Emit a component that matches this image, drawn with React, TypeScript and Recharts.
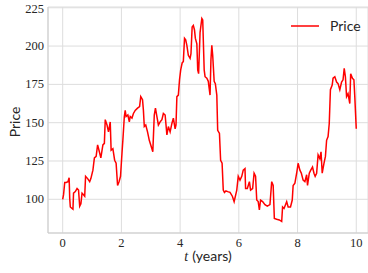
import { CartesianGrid, Line, LineChart, XAxis, YAxis } from "recharts";

const times = [
  0.0, 0.03, 0.07, 0.12, 0.18, 0.22, 0.24, 0.26, 0.32, 0.35, 0.37, 0.43, 0.49, 0.54, 0.58, 0.62,
  0.66, 0.71, 0.75, 0.78, 0.85, 0.92, 0.96, 1.03, 1.08, 1.14, 1.19, 1.25, 1.3, 1.37, 1.42, 1.45,
  1.51, 1.56, 1.62, 1.65, 1.71, 1.77, 1.82, 1.87, 1.92, 1.97, 2.02, 2.05, 2.1, 2.13, 2.16, 2.22,
  2.27, 2.3, 2.36, 2.41, 2.47, 2.55, 2.62, 2.66, 2.72, 2.75, 2.78, 2.83, 2.89, 2.95, 3.0, 3.07,
  3.12, 3.16, 3.21, 3.26, 3.32, 3.38, 3.43, 3.49, 3.55, 3.6, 3.66, 3.72, 3.77, 3.83, 3.86, 3.89,
  3.94, 3.98, 4.02, 4.07, 4.11, 4.15, 4.19, 4.23, 4.28, 4.34, 4.37, 4.41, 4.45, 4.49, 4.52, 4.57,
  4.6, 4.63, 4.68, 4.74, 4.77, 4.82, 4.85, 4.91, 4.96, 5.02, 5.05, 5.08, 5.11, 5.16, 5.2, 5.25,
  5.28, 5.34, 5.38, 5.43, 5.47, 5.51, 5.56, 5.62, 5.7, 5.78, 5.84, 5.93, 5.98, 6.04, 6.1, 6.15,
  6.21, 6.23, 6.29, 6.36, 6.4, 6.47, 6.52, 6.57, 6.61, 6.66, 6.7, 6.74, 6.81, 6.89, 6.97, 7.06,
  7.12, 7.17, 7.21, 7.29, 7.38, 7.46, 7.49, 7.54, 7.59, 7.63, 7.68, 7.76, 7.82, 7.85, 7.91, 7.97,
  8.02, 8.08, 8.13, 8.19, 8.25, 8.31, 8.34, 8.4, 8.45, 8.51, 8.56, 8.6, 8.65, 8.7, 8.76, 8.8,
  8.84, 8.9, 8.95, 8.99, 9.04, 9.08, 9.12, 9.18, 9.21, 9.27, 9.33, 9.38, 9.44, 9.5, 9.55, 9.59,
  9.63, 9.67, 9.72, 9.78, 9.81, 9.87, 9.92, 9.95, 10.0,
];

const prices = [
  100, 103, 111, 111, 111.5, 114, 100.5, 95, 94, 93.5, 104, 105, 107, 106, 95.5, 97,
  104, 103, 102, 115, 113.5, 111.5, 113.5, 119, 127, 128, 135.5, 131, 127, 135.5, 136.5, 152,
  148.5, 144, 150.5, 132, 133, 125.5, 123.5, 109, 111.5, 115, 130, 138.5, 154, 158, 154, 155,
  150.5, 154, 153, 156, 158, 159.5, 160.5, 167, 165, 158, 147.5, 148.5, 144, 138.5, 135.5, 131,
  155, 159.5, 154, 148.5, 150.5, 152, 156, 155, 142, 147.5, 144, 149.5, 153, 146, 148.5, 167,
  168, 178, 184.5, 189, 190, 205, 204, 200.5, 194, 192, 195, 212.5, 213.5, 210.5, 205, 201.5,
  184.5, 182, 209, 218, 217, 184.5, 180, 179, 177, 168, 191, 200.5, 194, 177, 175.5, 168,
  145, 143, 125.5, 123.5, 106, 104.5, 105.5, 105, 104.5, 102, 98.5, 106, 115, 112.5, 115, 119,
  120, 107, 107, 111.5, 106, 107, 117, 115, 99.5, 98.5, 93, 99.5, 98.5, 96.5, 95.5, 96.5,
  111.5, 109, 87.5, 87, 86.5, 85.5, 95, 94, 96.5, 98.5, 95, 95, 99.5, 109, 110.5, 117,
  123.5, 119, 117, 112.5, 111.5, 116, 109, 117, 119, 121, 117, 115, 117, 129, 126.5, 131,
  117, 123.5, 128, 138.5, 141, 149.5, 171.5, 174.5, 179, 180, 176.5, 175.5, 171.5, 176.5, 178, 185.5,
  180, 167, 169, 162.5, 182, 179, 178, 167, 146,
];

const xTicks = [0, 2, 4, 6, 8, 10];
const yTicks = [100, 125, 150, 175, 200, 225];

const data = times.map((t, i) => ({ t, price: prices[i] }));

const serif = "Liberation Serif";
const sans = "Lato";
const textColor = "#262626";

const XTick = (props: any) => {
  const { x, y, payload } = props;
  return (
    <text x={x} y={y + 12} textAnchor="middle" fill={textColor} fontSize={12.5} style={{ fontFamily: serif }}>
      {payload.value}
    </text>
  );
};

const YTick = (props: any) => {
  const { x, y, payload } = props;
  return (
    <text x={x} y={y} textAnchor="end" dominantBaseline="central" fill={textColor} fontSize={12.5} style={{ fontFamily: serif }}>
      {payload.value}
    </text>
  );
};

const XLabel = (props: any) => {
  const { x, y, width } = props.viewBox;
  return (
    <text x={x + width / 2} y={y + 28} textAnchor="middle" fill={textColor} fontSize={14}>
      <tspan style={{ fontFamily: serif, fontStyle: "italic" }}>t</tspan>
      <tspan style={{ fontFamily: sans }} dx={4}>(years)</tspan>
    </text>
  );
};

const YLabel = (props: any) => {
  const { x, y, height } = props.viewBox;
  const cx = x + 14.5;
  const cy = y + height / 2 + 2;
  return (
    <text
      x={cx}
      y={cy}
      transform={`rotate(-90, ${cx}, ${cy})`}
      textAnchor="middle"
      dominantBaseline="central"
      fill={textColor}
      fontSize={14}
      style={{ fontFamily: sans }}
    >
      Price
    </text>
  );
};

export default function App() {
  return (
    <div style={{ position: "absolute", left: 0, top: 0, width: 368, height: 273, overflow: "hidden", background: "#fff" }}>
      <LineChart width={368} height={273} data={data} margin={{ top: 7, right: 0, bottom: 0, left: 0 }}>
        <CartesianGrid stroke="#dddddd" strokeWidth={1} />
        <XAxis
          type="number"
          dataKey="t"
          domain={[-0.5, 10.4]}
          ticks={xTicks}
          allowDataOverflow
          height={40}
          tickLine={false}
          tickSize={0}
          axisLine={{ stroke: "#cccccc" }}
          tick={<XTick />}
          label={<XLabel />}
        />
        <YAxis
          type="number"
          domain={[78, 225.5]}
          ticks={yTicks}
          allowDataOverflow
          width={48}
          tickLine={false}
          tickSize={0}
          tickMargin={4}
          axisLine={{ stroke: "#cccccc" }}
          tick={<YTick />}
          label={<YLabel />}
        />
        <Line
          type="linear"
          dataKey="price"
          name="Price"
          stroke="#ff0000"
          strokeWidth={1.5}
          dot={false}
          isAnimationActive={false}
        />
      </LineChart>
      <div
        style={{
          position: "absolute",
          top: 17,
          left: 291,
          display: "flex",
          alignItems: "center",
          fontFamily: sans,
          fontSize: 14,
          color: textColor,
        }}
      >
        <svg width={28} height={10}>
          <line x1={0} y1={5} x2={28} y2={5} stroke="#ff0000" strokeWidth={1.5} />
        </svg>
        <span style={{ marginLeft: 11 }}>Price</span>
      </div>
    </div>
  );
}
